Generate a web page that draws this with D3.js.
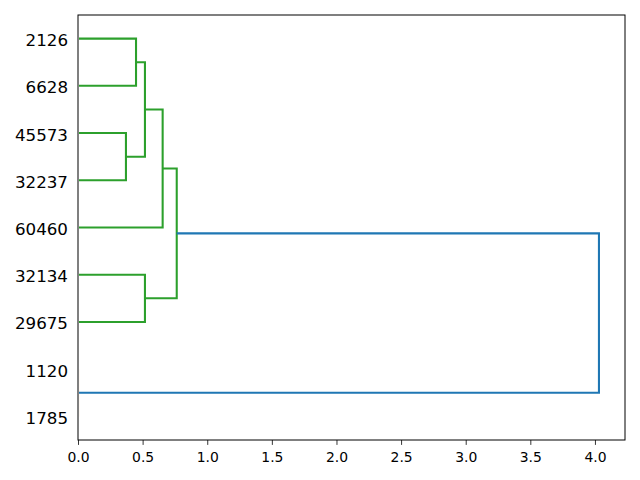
<!DOCTYPE html>
<html>
<head>
<meta charset="utf-8">
<script src="https://cdn.jsdelivr.net/npm/d3@7"></script>
<style>
  body { margin: 0; background: #fff; }
  text { font-family: "DejaVu Sans", sans-serif; }
</style>
</head>
<body>
<div id="chart"></div>
<script>
// leaves, bottom to top (scipy leaf order)
var leafLabels = ["1785", "1120", "29675", "32134", "60460", "32237", "45573", "6628", "2126"];

// linkage: node 9 + i joins linkA[i] and linkB[i] at linkHeight[i]
var linkA = [0, 2, 5, 7, 11, 4, 10, 9];
var linkB = [1, 3, 6, 8, 12, 13, 14, 15];
var linkHeight = [0.0, 0.518, 0.371, 0.449, 0.518, 0.655, 0.764, 4.031];
var linkCluster = [1, 2, 2, 2, 2, 2, 2, 0];

var palette = ["#1f77b4", "#ff7f0e", "#2ca02c"];
var xTicks = [0, 0.5, 1, 1.5, 2, 2.5, 3, 3.5, 4];

// set the dimensions and margins
var margin = { top: 15, right: 15, bottom: 40, left: 78 },
    width = 640 - margin.left - margin.right,
    height = 480 - margin.top - margin.bottom;

var svg = d3.select("#chart")
    .append("svg")
    .attr("width", width + margin.left + margin.right)
    .attr("height", height + margin.top + margin.bottom)
    .append("g")
    .attr("transform", "translate(" + margin.left + "," + margin.top + ")");

// clip to the inside of the frame (zero-height links hide under the spine)
svg.append("clipPath")
    .attr("id", "clip")
    .append("rect")
    .attr("x", 1.1)
    .attr("width", width)
    .attr("height", height);

var x = d3.scaleLinear()
    .domain([0, d3.max(linkHeight) * 1.05])
    .range([0, width]);

var y = d3.scaleLinear()
    .domain([0, leafLabels.length * 10])
    .range([height, 0]);

// node positions: leaves at 5, 15, 25 ...; merged nodes at mean of children
var nodeY = leafLabels.map(function (d, i) { return 5 + 10 * i; });
var nodeH = leafLabels.map(function () { return 0; });
linkA.forEach(function (a, i) {
    var b = linkB[i];
    nodeY.push((nodeY[a] + nodeY[b]) / 2);
    nodeH.push(linkHeight[i]);
});

var line = d3.line()
    .x(function (d) { return x(d[0]); })
    .y(function (d) { return y(d[1]); });

svg.append("g")
    .attr("clip-path", "url(#clip)")
    .selectAll("path")
    .data(linkA.map(function (a, i) { return i; }))
    .enter()
    .append("path")
    .attr("fill", "none")
    .attr("stroke", function (i) { return palette[linkCluster[i]]; })
    .attr("stroke-width", 2.08)
    .attr("d", function (i) {
        var a = linkA[i], b = linkB[i], h = linkHeight[i];
        return line([[nodeH[a], nodeY[a]], [h, nodeY[a]], [h, nodeY[b]], [nodeH[b], nodeY[b]]]);
    });

// X axis
var xAxis = svg.append("g")
    .attr("transform", "translate(0," + height + ")")
    .call(d3.axisBottom(x)
        .tickValues(xTicks)
        .tickFormat(d3.format(".1f"))
        .tickSize(4.9)
        .tickPadding(7.5)
        .tickSizeOuter(0));
xAxis.select(".domain").remove();
xAxis.selectAll("line").attr("stroke", "#000").attr("stroke-width", 0.8);
xAxis.selectAll("text")
    .attr("fill", "#000")
    .style("font-size", "13.9px")
    .style("font-family", "'DejaVu Sans', sans-serif");

// leaf labels
svg.append("g")
    .selectAll("text")
    .data(leafLabels)
    .enter()
    .append("text")
    .attr("x", -10)
    .attr("y", function (d, i) { return y(nodeY[i]); })
    .attr("dy", "0.45em")
    .attr("text-anchor", "end")
    .style("font-size", "16.7px")
    .text(function (d) { return d; });

// frame
svg.append("rect")
    .attr("width", width)
    .attr("height", height)
    .attr("fill", "none")
    .attr("stroke", "#000")
    .attr("stroke-width", 1);
</script>
</body>
</html>
